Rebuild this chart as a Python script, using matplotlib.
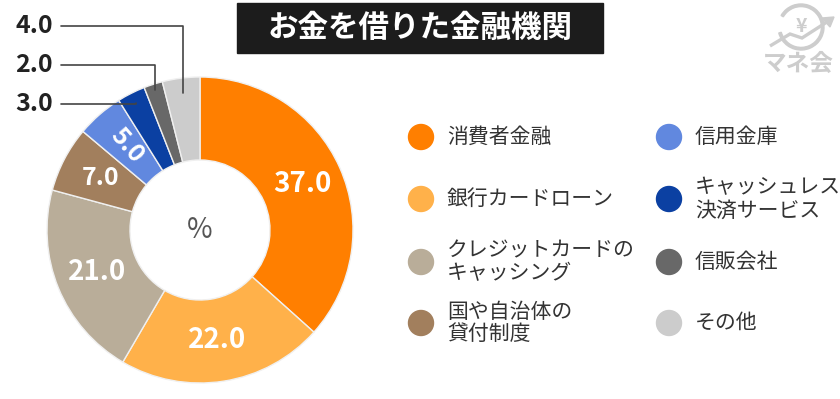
import matplotlib.pyplot as plt
import numpy as np
from matplotlib.patches import Rectangle, Circle, Wedge, Polygon

plt.rcParams['font.family'] = ['Noto Sans CJK JP', 'DejaVu Sans']

# 金融機関ごとの割合 (%)
labels = ['消費者金融', '銀行カードローン', 'クレジットカードの\nキャッシング',
          '国や自治体の\n貸付制度', '信用金庫', 'キャッシュレス\n決済サービス',
          '信販会社', 'その他']
values = [37.0, 22.0, 21.0, 7.0, 5.0, 3.0, 2.0, 4.0]
colors = ['#ff7f00', '#ffb14a', '#b9ad99', '#a27f5d', '#6188df',
          '#0b40a2', '#686868', '#cccccc']

W, H = 840, 399
fig = plt.figure(figsize=(W / 100, H / 100), dpi=100)

# donut: centre (200, 230) px, outer r 153 px, inner r 70 px
cx, cy, R = 200, 230, 153
ax = fig.add_axes([(cx - R) / W, (H - cy - R) / H, 2 * R / W, 2 * R / H])
wedges, _ = ax.pie(values, colors=colors, startangle=90, counterclock=False,
                   radius=1.0, wedgeprops=dict(width=1 - 70 / R,
                                               edgecolor='#f0f0f0', linewidth=1))
ax.set_xlim(-1, 1)
ax.set_ylim(-1, 1)
ax.set_aspect('equal')
ax.axis('off')

ax.text(0, 0, '%', ha='center', va='center', fontsize=20, color='#555555')

total = sum(values)
cum = np.cumsum([0] + values)
mids = []
for i, v in enumerate(values):
    frac = (cum[i] + v / 2) / total
    mids.append(np.deg2rad(90 - frac * 360))

# labels inside the big wedges
r_in = 0.73
for i, v in enumerate(values):
    if v < 5:
        continue
    a = mids[i]
    x, y = r_in * np.cos(a), r_in * np.sin(a)
    rot = 0
    if v == 5.0:
        rot = np.rad2deg(a) - 180
    ax.text(x, y, f'{v:.1f}', ha='center', va='center', color='white',
            fontsize=20 if v > 10 else 18, fontweight='bold', rotation=rot)

# small wedges: labels on the left with leader lines
small = [(7, 0.90, 26), (6, 0.96, 65), (5, 0.93, 104)]
for i, rr, ty in small:
    a = mids[i]
    ax.annotate(f'{values[i]:.1f}', xy=(rr * np.cos(a), rr * np.sin(a)),
                xytext=(53, H - ty), textcoords='figure pixels',
                ha='right', va='center', fontsize=18, fontweight='bold',
                color='#222222',
                arrowprops=dict(arrowstyle='-', color='#444444', lw=1.2,
                                relpos=(1, 0.5), shrinkA=4, shrinkB=0,
                                connectionstyle='angle,angleA=0,angleB=90,rad=0'))

# title box
fig.patches.append(Rectangle((237 / W, (H - 53) / H), 366 / W, 50 / H,
                             transform=fig.transFigure, color='#1c1c1c'))
fig.text(420 / W, (H - 28) / H, 'お金を借りた金融機関', ha='center', va='center',
         color='white', fontsize=22, fontweight='bold')

# legend
col_x = [421, 669]
row_y = [137, 199, 262, 323]
for k, (lab, c) in enumerate(zip(labels, colors)):
    col, row = divmod(k, 4)
    x, y = col_x[col], row_y[row]
    fig.patches.append(Circle((x, H - y), 12.5, transform=None, color=c))
    fig.text((x + 26) / W, (H - y) / H, lab, ha='left', va='center',
             fontsize=15, color='#333333', linespacing=1.05)

# logo
lc = '#cdcdcd'
fig.patches.append(Wedge((801, H - 27), 23, 195, 150, width=2.6,
                         transform=None, color=lc))
fig.text(801 / W, (H - 27) / H, '¥', ha='center', va='center', fontsize=14,
         fontweight='bold', color=lc)
fig.patches.append(Polygon([(770, H - 46), (790, H - 34), (802, H - 38),
                            (830, H - 20)], closed=False, fill=False,
                           transform=None, edgecolor=lc, lw=2.4))
fig.patches.append(Polygon([(834, H - 17), (822, H - 18), (830, H - 27)],
                           transform=None, color=lc))
fig.text(798 / W, (H - 64) / H, 'マネ会', ha='center', va='center', fontsize=17,
         fontweight='bold', color=lc)

fig.savefig('out.png', dpi=100, facecolor='white')
